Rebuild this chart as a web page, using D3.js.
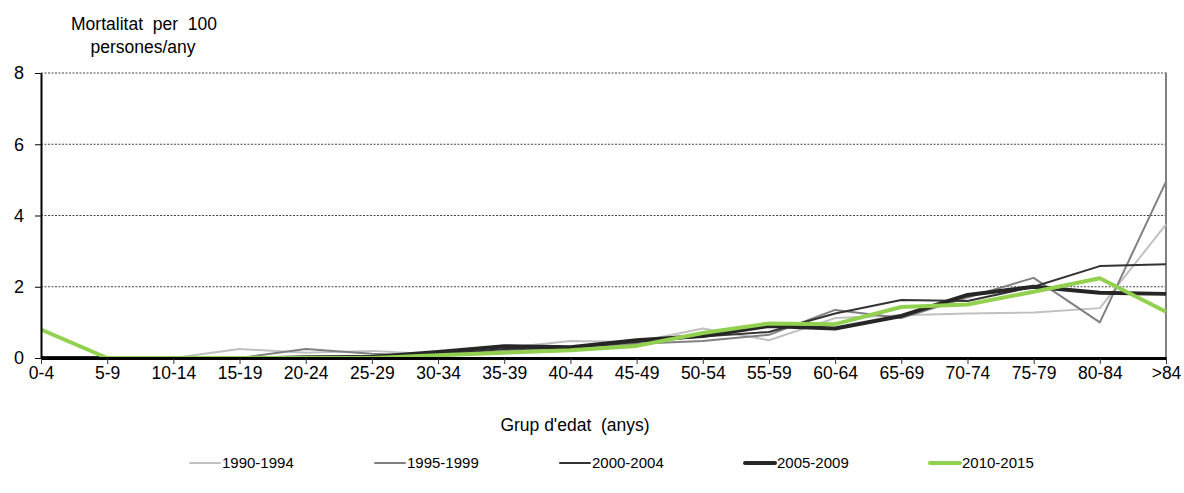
<!DOCTYPE html>
<html>
<head>
<meta charset="utf-8">
<script src="https://cdn.jsdelivr.net/npm/d3@7/dist/d3.min.js"></script>
<style>
  body { margin: 0; background: #fff; }
  svg text { font-family: "Liberation Sans", Arial, sans-serif; fill: #000; }
</style>
</head>
<body>
<div id="chart"></div>
<script>
const ageGroups = ["0-4", "5-9", "10-14", "15-19", "20-24", "25-29", "30-34", "35-39", "40-44",
    "45-49", "50-54", "55-59", "60-64", "65-69", "70-74", "75-79", "80-84", ">84"];

const periods = ["1990-1994", "1995-1999", "2000-2004", "2005-2009", "2010-2015"];

const mort1990 = [0, 0, 0, 0.25, 0.15, 0.2, 0.1, 0.28, 0.48, 0.45, 0.83, 0.5, 1.12, 1.2, 1.25, 1.28, 1.4, 3.75];
const mort1995 = [0, 0, 0, 0, 0.25, 0.12, 0.05, 0.2, 0.3, 0.4, 0.48, 0.65, 1.35, 1.12, 1.7, 2.25, 1.0, 4.95];
const mort2000 = [0, 0, 0, 0, 0.05, 0.05, 0.1, 0.25, 0.3, 0.45, 0.6, 0.73, 1.25, 1.63, 1.6, 2.0, 2.58, 2.63];
const mort2005 = [0, 0, 0, 0, 0, 0.03, 0.17, 0.33, 0.3, 0.5, 0.62, 0.9, 0.83, 1.18, 1.77, 2.0, 1.83, 1.8];
const mort2010 = [0.8, 0, 0, 0, 0, 0, 0.08, 0.15, 0.22, 0.34, 0.7, 0.97, 0.95, 1.43, 1.5, 1.86, 2.24, 1.3];

const yTicks = [0, 2, 4, 6, 8];

const width = 1184;
const height = 493;
const margin = { top: 73, right: 18, bottom: 135, left: 41 };

const seriesStyle = [
    { color: "#c0c0c0", width: 2 },
    { color: "#808080", width: 2 },
    { color: "#333333", width: 2 },
    { color: "#262626", width: 4 },
    { color: "#92d050", width: 4 }
];

const series = periods.map((p, i) => ({
    name: p,
    values: [mort1990, mort1995, mort2000, mort2005, mort2010][i],
    style: seriesStyle[i]
}));

const svg = d3.select("#chart")
    .append("svg")
    .attr("width", width)
    .attr("height", height)
    .attr("viewBox", [0, 0, width, height]);

let x = d3.scalePoint()
    .domain(ageGroups)
    .range([margin.left, width - margin.right]);

let y = d3.scaleLinear()
    .domain([0, 8])
    .range([height - margin.bottom, margin.top]);

//dashed gridlines (the one at 8 is also the top of the plot area)
svg.append("g")
    .selectAll("line")
    .data(yTicks.filter(d => d > 0))
    .join("line")
    .attr("x1", margin.left)
    .attr("x2", width - margin.right)
    .attr("y1", d => y(d))
    .attr("y2", d => y(d))
    .attr("stroke", "#444")
    .attr("stroke-width", 1)
    .attr("stroke-dasharray", "2,1.5");

//right border
svg.append("line")
    .attr("x1", width - margin.right)
    .attr("x2", width - margin.right)
    .attr("y1", margin.top - 0.5)
    .attr("y2", height - margin.bottom)
    .attr("stroke", "#808080")
    .attr("stroke-width", 2);

//lines
const line = d3.line()
    .x((d, i) => x(ageGroups[i]))
    .y(d => y(d));

svg.append("g")
    .selectAll("path")
    .data(series)
    .join("path")
    .attr("fill", "none")
    .attr("stroke", d => d.style.color)
    .attr("stroke-width", d => d.style.width)
    .attr("stroke-linejoin", "round")
    .attr("d", d => line(d.values));

//y axis
const yAxis = svg.append("g")
    .attr("transform", `translate(${margin.left},0)`)
    .call(d3.axisLeft(y).tickValues(yTicks).tickSize(6).tickSizeOuter(0).tickPadding(11));
yAxis.select(".domain").attr("stroke", "#000").attr("stroke-width", 2);
yAxis.selectAll(".tick line").attr("stroke", "#000");
yAxis.selectAll("text").attr("font-size", 18).attr("font-family", "Liberation Sans, Arial, sans-serif");

//x axis
const xAxis = svg.append("g")
    .attr("transform", `translate(0,${y(0)})`)
    .call(d3.axisBottom(x).tickSize(6).tickSizeOuter(0).tickPadding(3));
xAxis.select(".domain").attr("stroke", "#000").attr("stroke-width", 3);
xAxis.selectAll(".tick line").attr("stroke", "#333");
xAxis.selectAll("text").attr("font-size", 17.5).attr("font-family", "Liberation Sans, Arial, sans-serif");

//axis titles
svg.append("text")
    .attr("x", 144)
    .attr("y", 30)
    .attr("text-anchor", "middle")
    .attr("font-size", 17.5)
    .attr("xml:space", "preserve")
    .text("Mortalitat  per  100");
svg.append("text")
    .attr("x", 143)
    .attr("y", 53)
    .attr("text-anchor", "middle")
    .attr("font-size", 17.5)
    .text("persones/any");

svg.append("text")
    .attr("x", 575)
    .attr("y", 431)
    .attr("text-anchor", "middle")
    .attr("font-size", 17.5)
    .attr("xml:space", "preserve")
    .text("Grup d'edat  (anys)");

//legend
const legend = svg.append("g")
    .attr("transform", "translate(190,463)");

const item = legend.selectAll("g")
    .data(series)
    .join("g")
    .attr("transform", (d, i) => `translate(${i * 185},0)`);

item.append("line")
    .attr("x1", 0)
    .attr("x2", 30)
    .attr("stroke", d => d.style.color)
    .attr("stroke-width", d => d.style.width)
    .attr("stroke-linecap", "round");

item.append("text")
    .attr("x", 32)
    .attr("y", 5)
    .attr("font-size", 15)
    .text(d => d.name);
</script>
</body>
</html>
